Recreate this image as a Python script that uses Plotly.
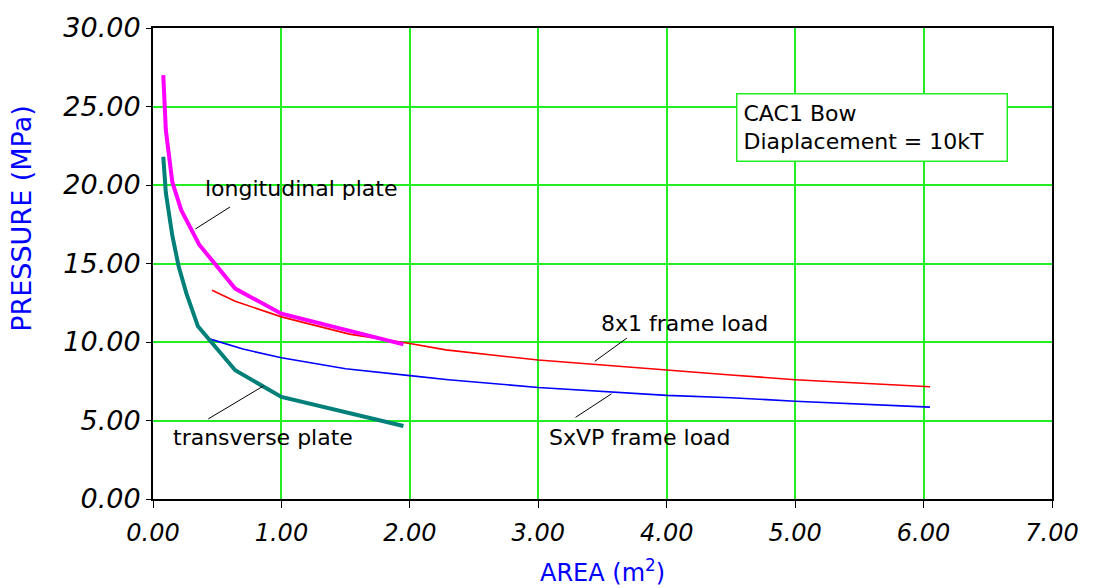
import plotly.graph_objects as go

# ---- data ----
long_x = [0.08, 0.10, 0.15, 0.22, 0.36, 0.64, 1.00, 1.95]
long_y = [27.0, 23.5, 20.2, 18.4, 16.2, 13.4, 11.8, 9.85]

trans_x = [0.08, 0.10, 0.15, 0.20, 0.26, 0.35, 0.64, 1.00, 1.95]
trans_y = [21.8, 19.5, 16.8, 14.8, 13.1, 11.0, 8.2, 6.5, 4.65]

frame8_x = [0.46, 0.64, 1.00, 1.53, 2.00, 2.28, 3.00, 4.00, 4.50, 5.00, 6.05]
frame8_y = [13.3, 12.6, 11.6, 10.5, 9.9, 9.5, 8.85, 8.2, 7.9, 7.6, 7.15]

sxvp_x = [0.44, 0.70, 1.00, 1.50, 2.00, 2.30, 3.00, 4.00, 4.50, 5.00, 6.05]
sxvp_y = [10.2, 9.55, 9.0, 8.3, 7.86, 7.6, 7.1, 6.6, 6.45, 6.23, 5.85]

x_ticks = [0, 1, 2, 3, 4, 5, 6, 7]
x_tick_labels = ["0.00", "1.00", "2.00", "3.00", "4.00", "5.00", "6.00", "7.00"]
y_ticks = [0, 5, 10, 15, 20, 25, 30]
y_tick_labels = ["0.00", "5.00", "10.00", "15.00", "20.00", "25.00", "30.00"]

GRID = "#22ee22"
TXT_FONT = "DejaVu Sans"

fig = go.Figure()
fig.add_trace(go.Scatter(x=frame8_x, y=frame8_y, mode="lines",
                         line=dict(color="#ff0000", width=1.6), name="8x1 frame load"))
fig.add_trace(go.Scatter(x=sxvp_x, y=sxvp_y, mode="lines",
                         line=dict(color="#0000ff", width=1.6), name="SxVP frame load"))
fig.add_trace(go.Scatter(x=long_x, y=long_y, mode="lines",
                         line=dict(color="#ff00ff", width=4), name="longitudinal plate"))
fig.add_trace(go.Scatter(x=trans_x, y=trans_y, mode="lines",
                         line=dict(color="#008078", width=4), name="transverse plate"))

# leader lines
leaders = [
    (0.60, 18.6, 0.33, 17.2),
    (0.86, 7.2, 0.43, 5.1),
    (3.69, 10.25, 3.44, 8.77),
    (3.57, 6.7, 3.29, 5.2),
]
for x0, y0, x1, y1 in leaders:
    fig.add_shape(type="line", x0=x0, y0=y0, x1=x1, y1=y1, xref="x", yref="y",
                  line=dict(color="black", width=1))

labels = [
    ("longitudinal plate", 0.39, 19.8),
    ("transverse plate", 0.14, 3.9),
    ("8x1 frame load", 3.47, 11.2),
    ("SxVP frame load", 3.07, 3.9),
]
for t, x, y in labels:
    fig.add_annotation(text=t, x=x, y=y, xref="x", yref="y", showarrow=False,
                       xanchor="left", yanchor="middle",
                       font=dict(family=TXT_FONT, size=22, color="black"))

# info box
fig.add_annotation(text="CAC1 Bow<br>Diaplacement = 10kT", xref="paper", yref="paper",
                   x=0.6485, y=0.8616, xanchor="left", yanchor="top", showarrow=False,
                   align="left", bgcolor="white", bordercolor=GRID, borderwidth=1.5,
                   borderpad=6, width=257,
                   font=dict(family=TXT_FONT, size=22, color="black"))

# axis titles
fig.add_annotation(text="PRESSURE (MPa)", xref="paper", yref="paper", x=-0.1457, y=0.595,
                   textangle=-90, showarrow=False, xanchor="center", yanchor="middle",
                   font=dict(family="DejaVu Sans", size=27, color="#0000ff"))
fig.add_annotation(text="AREA (m<sup>2</sup>)", xref="paper", yref="paper", x=0.5, y=-0.153,
                   showarrow=False, xanchor="center", yanchor="middle",
                   font=dict(family="DejaVu Sans", size=24, color="#0000ff"))

fig.update_xaxes(range=[0, 7], tickvals=x_ticks, ticktext=x_tick_labels,
                 showgrid=True, gridcolor=GRID, gridwidth=1.5,
                 showline=True, linecolor="black", linewidth=2, mirror=True,
                 ticks="outside", ticklen=7, tickcolor="black", zeroline=False,
                 ticklabelstandoff=4,
                 tickfont=dict(family="DejaVu Sans", size=24, color="black",
                               style="italic"))
fig.update_yaxes(range=[0, 30], tickvals=y_ticks, ticktext=y_tick_labels,
                 showgrid=True, gridcolor=GRID, gridwidth=1.5,
                 showline=True, linecolor="black", linewidth=2, mirror=True,
                 ticks="outside", ticklen=5, tickcolor="black", zeroline=False,
                 tickfont=dict(family="DejaVu Sans", size=27, color="black",
                               style="italic"))

fig.update_layout(width=1094, height=588, showlegend=False,
                  paper_bgcolor="white", plot_bgcolor="white",
                  margin=dict(l=153, r=42, t=22, b=89))

fig.write_html("out.html")
